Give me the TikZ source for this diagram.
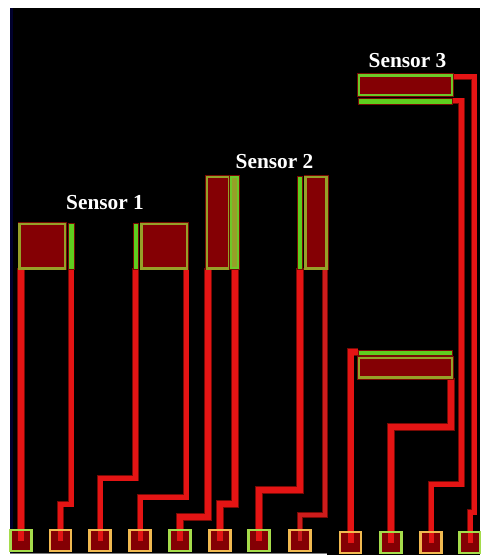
\documentclass[tikz,border=0pt]{standalone}
\usepackage{fontspec}
\setmainfont{Liberation Serif}
\definecolor{wire}{RGB}{228,20,20}
\definecolor{wiredim}{RGB}{205,28,28}
\definecolor{halo}{RGB}{120,10,5}
\definecolor{fillred}{RGB}{132,0,4}
\definecolor{glow}{RGB}{150,160,40}
\definecolor{brightg}{RGB}{110,200,40}
\definecolor{lime}{RGB}{95,205,30}
\definecolor{padline}{RGB}{240,185,80}
\definecolor{padgreen}{RGB}{165,220,75}
\definecolor{navy}{RGB}{0,0,45}
\definecolor{greyb}{RGB}{120,120,120}
\tikzset{x=0.75pt,y=-0.75pt,
 wirebase/.style={draw=wire,line join=miter,preaction={draw=halo,line width=#1*0.75pt+1.2pt}},
 wirea/.style={wirebase=6,line width=6*0.75pt},
 wireb/.style={wirebase=5,line width=5*0.75pt},
 wirec/.style={wirebase=4.4,draw=wiredim,line width=4.4*0.75pt},
 plate/.style={draw=glow,fill=fillred,line width=2.4*0.75pt,preaction={draw=halo,line width=4*0.75pt}},
 plateg/.style={draw=brightg,fill=fillred,line width=2.4*0.75pt,preaction={draw=halo,line width=4*0.75pt}},
 bar/.style={fill=lime,draw=halo,line width=0.6pt},
 padfill/.style={fill=fillred,draw=none},
 padbox/.style={draw=padline,line width=2.6*0.75pt},
 padboxg/.style={draw=padgreen,line width=2.6*0.75pt},
 lab/.style={text=white,font=\fontsize{16}{17}\selectfont\bfseries,inner sep=0pt}}
\begin{document}
\begin{tikzpicture}
\useasboundingbox (0,0) rectangle (480,555);
\fill[white] (0,0) rectangle (480,555);
\fill[black] (10,8) rectangle (480,555);
\fill[navy] (10,8) rectangle (13,555);
\fill[white] (0,553.5) rectangle (327,555);
\fill[greyb] (10,553) rectangle (327,553.8);
% pad centres
\foreach \n/\x/\y in {p1/21/540.5,p2/60.5/540.5,p3/100/540.5,p4/140/540.5,p5/180/540.5,p6/220/540.5,p7/259/540.5,p8/300/540.5,p9/350.5/542.5,p10/391/542.5,p11/431/542.5,p12/470/542.5}
 \coordinate (\n) at (\x,\y);
\foreach \n in {p1,p2,p3,p4,p5,p6,p7,p8,p9,p10,p11,p12}
 \fill[padfill] ([shift={(-10.5,-10.5)}]\n) rectangle ([shift={(10.5,10.5)}]\n);
% wires
\draw[wirea] (21,268) -- (p1);
\draw[wireb] (71,268) -- (71,504) -- (60.5,504) -- (p2);
\draw[wireb] (135.5,268) -- (135.5,478) -- (100,478) -- (p3);
\draw[wireb] (186,268) -- (186,497) -- (140,497) -- (p4);
\draw[wirea] (208,268) -- (208,517) -- (180,517) -- (p5);
\draw[wirea] (235,268) -- (235,504) -- (220,504) -- (p6);
\draw[wirea] (300,268) -- (300,490) -- (259,490) -- (p7);
\draw[wirec] (325,268) -- (325,515) -- (300,515) -- (p8);
\draw[wirea] (358,352) -- (350.5,352) -- (p9);
\draw[wirea] (451,378) -- (451,427) -- (391,427) -- (p10);
\draw[wireb] (452,101) -- (461.5,101) -- (461.5,484) -- (431,484) -- (p11);
\draw[wireb] (452,77) -- (474,77) -- (474,512) -- (470,512) -- (p12);
% sensor 1
\draw[plate] (19.5,224) rectangle (65,268.5);
\draw[bar] (68.5,223) rectangle (74,269);
\draw[bar] (133,223) rectangle (138.5,269);
\draw[plate] (141.5,224) rectangle (187,268.5);
% sensor 2
\draw[plate] (207,177) rectangle (229,268.5);
\draw[brightg,line width=1.5pt,fill=glow,preaction={draw=halo,line width=2.6pt}] (231,177) rectangle (238,268.5);
\draw[bar] (297,176) rectangle (302.5,269);
\draw[plate] (305.5,177) rectangle (326.5,268.5);
% sensor 3
\draw[plateg] (359,75.5) rectangle (452,95);
\draw[bar] (358,98) rectangle (452,104);
\draw[bar] (358,350) rectangle (452,355);
\draw[plate] (359,358) rectangle (452,377.5);
% pad outlines
\foreach \n/\s in {p1/padboxg,p2/padbox,p3/padbox,p4/padbox,p5/padboxg,p6/padbox,p7/padboxg,p8/padbox,p9/padbox,p10/padboxg,p11/padbox,p12/padboxg}
 \draw[\s] ([shift={(-10.5,-10.5)}]\n) rectangle ([shift={(10.5,10.5)}]\n);
% labels
\node[lab] (s1) at (105,203) {Sensor 1};
\node[lab] (s2) at (274.5,162) {Sensor 2};
\node[lab] (s3) at (407.5,61) {Sensor 3};
\end{tikzpicture}
\end{document}
